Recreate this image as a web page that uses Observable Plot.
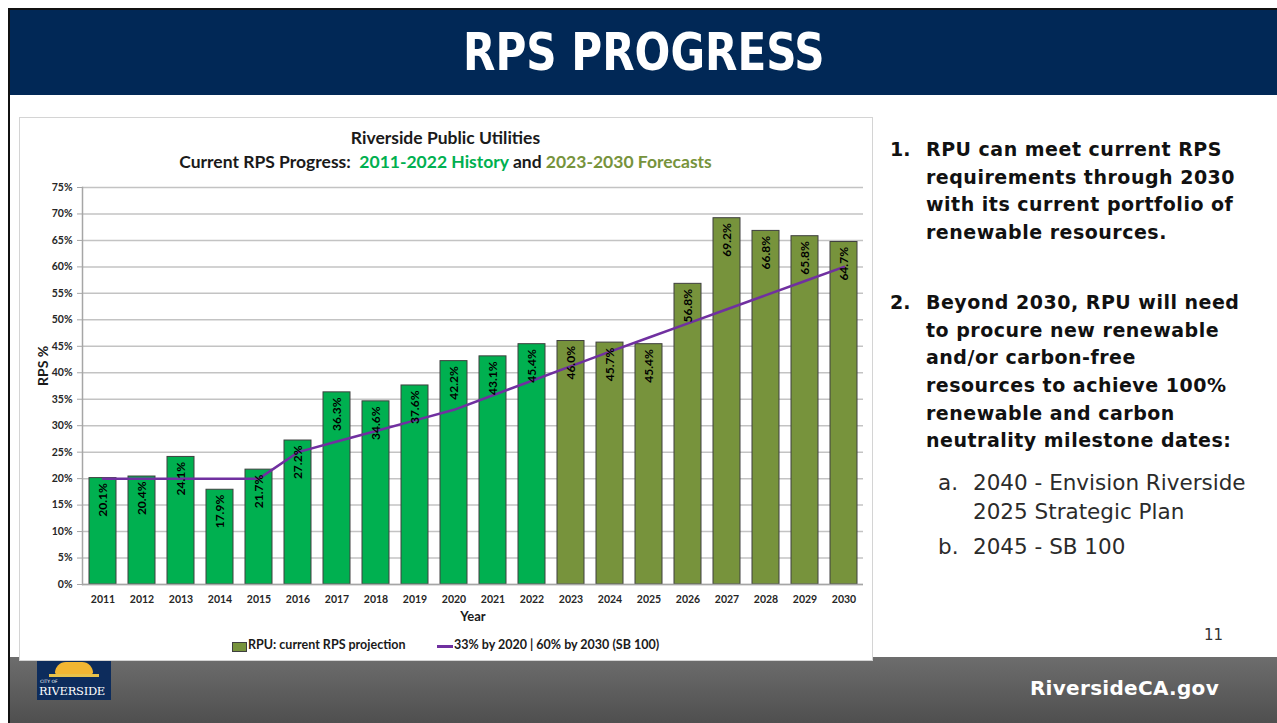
<!DOCTYPE html>
<html><head><meta charset="utf-8">
<script src="https://cdn.jsdelivr.net/npm/d3@7"></script>
<script src="https://cdn.jsdelivr.net/npm/@observablehq/plot@0.6"></script>
<style>
html,body{margin:0;padding:0}
body{width:1277px;height:723px;overflow:hidden;background:#fff;position:relative;font-family:Lato,sans-serif}
.abs{position:absolute}
#frameL{left:8px;top:8px;width:2px;height:715px;background:#111}
#frameT{left:8px;top:8px;width:1269px;height:2px;background:#111}
#banner{left:10px;top:10px;width:1267px;height:85px;background:#012856;color:#fff;text-align:center;
  font-family:"DejaVu Sans Condensed","DejaVu Sans",sans-serif;font-weight:bold;font-size:52px;line-height:85px}
#banner span{display:inline-block;transform:scaleX(0.9);transform-origin:center}
#footer{left:10px;top:657px;width:1267px;height:66px;background:linear-gradient(#6d6d6d,#4f4f4f)}
#site{right:58px;top:676px;color:#fff;font-family:"DejaVu Sans",sans-serif;font-weight:bold;font-size:20px;letter-spacing:0.3px}
#logo{left:37px;top:660px;width:74px;height:40px;background:#0d2c5c}
#chartbox{left:19px;top:117px;width:852px;height:542px;border:1px solid #d4d4d4;background:#fff}
#ct1{left:19px;top:127px;width:853px;text-align:center;font-weight:bold;font-size:17.5px;color:#1a1a1a}
#ct2{left:19px;top:151px;width:853px;text-align:center;font-weight:bold;font-size:17.5px;color:#1a1a1a}
#plotwrap{left:20px;top:175px}
#legend{left:20px;top:637px;width:853px;font-weight:bold;font-size:12.5px;color:#1a1a1a}
#notes{left:890px;top:136px;width:387px;font-family:"DejaVu Sans",sans-serif;color:#111;white-space:nowrap}
.item{position:relative;padding-left:36px;font-weight:bold;font-size:19px;line-height:27.7px;letter-spacing:0.5px}
.item .n{position:absolute;left:0;top:0;letter-spacing:0}
.sub{position:relative;padding-left:83px;font-size:21.5px;line-height:28.5px;color:#2b2b2b;font-weight:normal}
.sub .n{position:absolute;left:48px;top:0}
#pg{left:1204px;top:626px;font-family:"DejaVu Sans",sans-serif;font-size:15px;color:#333}
</style></head><body>
<div class="abs" id="banner"><span>RPS PROGRESS</span></div>
<div class="abs" id="frameT"></div>
<div class="abs" id="frameL"></div>
<div class="abs" id="footer"></div>
<div class="abs" id="logo">
  <div class="abs" style="left:18px;top:2px;width:38px;height:12px;background:#f2b632;border-radius:19px 19px 2px 2px"></div>
  <div class="abs" style="left:12px;top:14px;width:50px;height:3px;background:#e8c24a"></div>
  <div class="abs" style="left:3px;top:19px;font-size:4.5px;color:#fff;font-family:'DejaVu Sans'">CITY OF</div>
  <div class="abs" style="left:2px;top:24px;font-size:11.5px;color:#fff;font-family:'DejaVu Serif','Liberation Serif',serif;letter-spacing:-0.3px">RIVERSIDE</div>
</div>
<div class="abs" id="site">RiversideCA.gov</div>
<div class="abs" id="chartbox"></div>
<div class="abs" id="ct1">Riverside Public Utilities</div>
<div class="abs" id="ct2">Current RPS Progress:&nbsp; <span style="color:#00b050">2011-2022 History</span> and <span style="color:#77933c">2023-2030 Forecasts</span></div>
<div class="abs" id="plotwrap"></div>
<div class="abs" id="legend"></div>
<div class="abs" id="notes">
  <div class="item"><span class="n">1.</span>RPU can meet current RPS<br>requirements through 2030<br>with its current portfolio of<br>renewable resources.</div>
  <div style="height:42px"></div>
  <div class="item"><span class="n">2.</span>Beyond 2030, RPU will need<br>to procure new renewable<br>and/or carbon-free<br>resources to achieve 100%<br>renewable and carbon<br>neutrality milestone dates:</div>
  <div class="sub" style="margin-top:14px"><span class="n">a.</span>2040 - Envision Riverside<br>2025 Strategic Plan</div>
  <div class="sub" style="margin-top:7px"><span class="n">b.</span>2045 - SB 100</div>
</div>
<div class="abs" id="pg">11</div>
<script>
// ---- data ----
const years = [2011,2012,2013,2014,2015,2016,2017,2018,2019,2020,2021,2022,2023,2024,2025,2026,2027,2028,2029,2030];
const rpsActualForecast = [0.201,0.204,0.241,0.179,0.217,0.272,0.363,0.346,0.376,0.422,0.431,0.454,0.460,0.457,0.454,0.568,0.692,0.668,0.658,0.647];
const rpsTarget = [0.20,0.20,0.20,0.20,0.20,0.25,0.27,0.29,0.31,0.33,0.3575,0.385,0.4125,0.44,0.4667,0.4933,0.52,0.5467,0.5733,0.60];
const yTicks = [0,0.05,0.10,0.15,0.20,0.25,0.30,0.35,0.40,0.45,0.50,0.55,0.60,0.65,0.70,0.75];
const lastHistoryYear = 2022;
const seriesNames = ["RPU: current RPS projection", "33% by 2020 | 60% by 2030 (SB 100)"];
const phases = ["History","Forecast"];
const phaseColors = ["#00b050","#77933c"];
const targetColor = "#7030a0";

const data = years.map((y,i)=>({year:String(y), value:rpsActualForecast[i], target:rpsTarget[i], phase: y<=lastHistoryYear?"History":"Forecast"}));

const chart = Plot.plot({
  width: 850, height: 460,
  marginTop: 12, marginBottom: 51, marginLeft: 62, marginRight: 7,
  style: {fontFamily: "Lato, sans-serif", fontWeight: "bold", fontSize: "10.5px", color: "#262626", background: "transparent", overflow: "visible"},
  x: {type: "band", domain: data.map(d=>d.year), paddingInner: 0.31, paddingOuter: 0.155},
  y: {domain: [0, 0.75]},
  color: {domain: phases, range: phaseColors},
  marks: [
    Plot.gridY(yTicks, {stroke: "#c3c3c3", strokeOpacity: 1, strokeWidth: 1.5}),
    Plot.axisY(yTicks, {tickFormat: d3.format(".0%"), tickSize: 5, tickPadding: 5, stroke: "#a6a6a6", label: null}),
    Plot.axisX({tickSize: 0, tickPadding: 11, label: null}),
    Plot.barY(data, {x: "year", y: "value", fill: "phase", stroke: "#3f3f3f", strokeWidth: 1}),
    Plot.frame({anchor: "left", stroke: "#a6a6a6", strokeWidth: 1.5}),
    Plot.ruleY([0], {stroke: "#a6a6a6", strokeWidth: 1.5}),
    Plot.line(data, {x: "year", y: "target", stroke: targetColor, strokeWidth: 2.5}),
    Plot.text(data, {x: "year", y: "value", text: d=>d3.format(".1%")(d.value), rotate: -90, textAnchor: "end", lineAnchor: "middle", dy: 5, fontSize: 12, fontWeight: "bold", fill: "#000"}),
    Plot.text(["Year"], {frameAnchor: "bottom", dy: 36, fontSize: 13, fontWeight: "bold", fill: "#1a1a1a"}),
    Plot.text(["RPS %"], {frameAnchor: "left", rotate: -90, dx: -39, fontSize: 14, fontWeight: "bold", fill: "#1a1a1a"})
  ]
});
document.getElementById("plotwrap").appendChild(chart);

// legend
const lg = document.getElementById("legend");
lg.innerHTML = `<div style="position:absolute;left:212px;top:5px;width:13px;height:8px;background:${phaseColors[1]};border:1px solid #3f3f3f"></div>
<div style="position:absolute;left:228px;top:0">${seriesNames[0]}</div>
<div style="position:absolute;left:417px;top:8px;width:16px;height:2.5px;background:${targetColor}"></div>
<div style="position:absolute;left:434px;top:0">${seriesNames[1]}</div>`;
</script>
</body></html>
